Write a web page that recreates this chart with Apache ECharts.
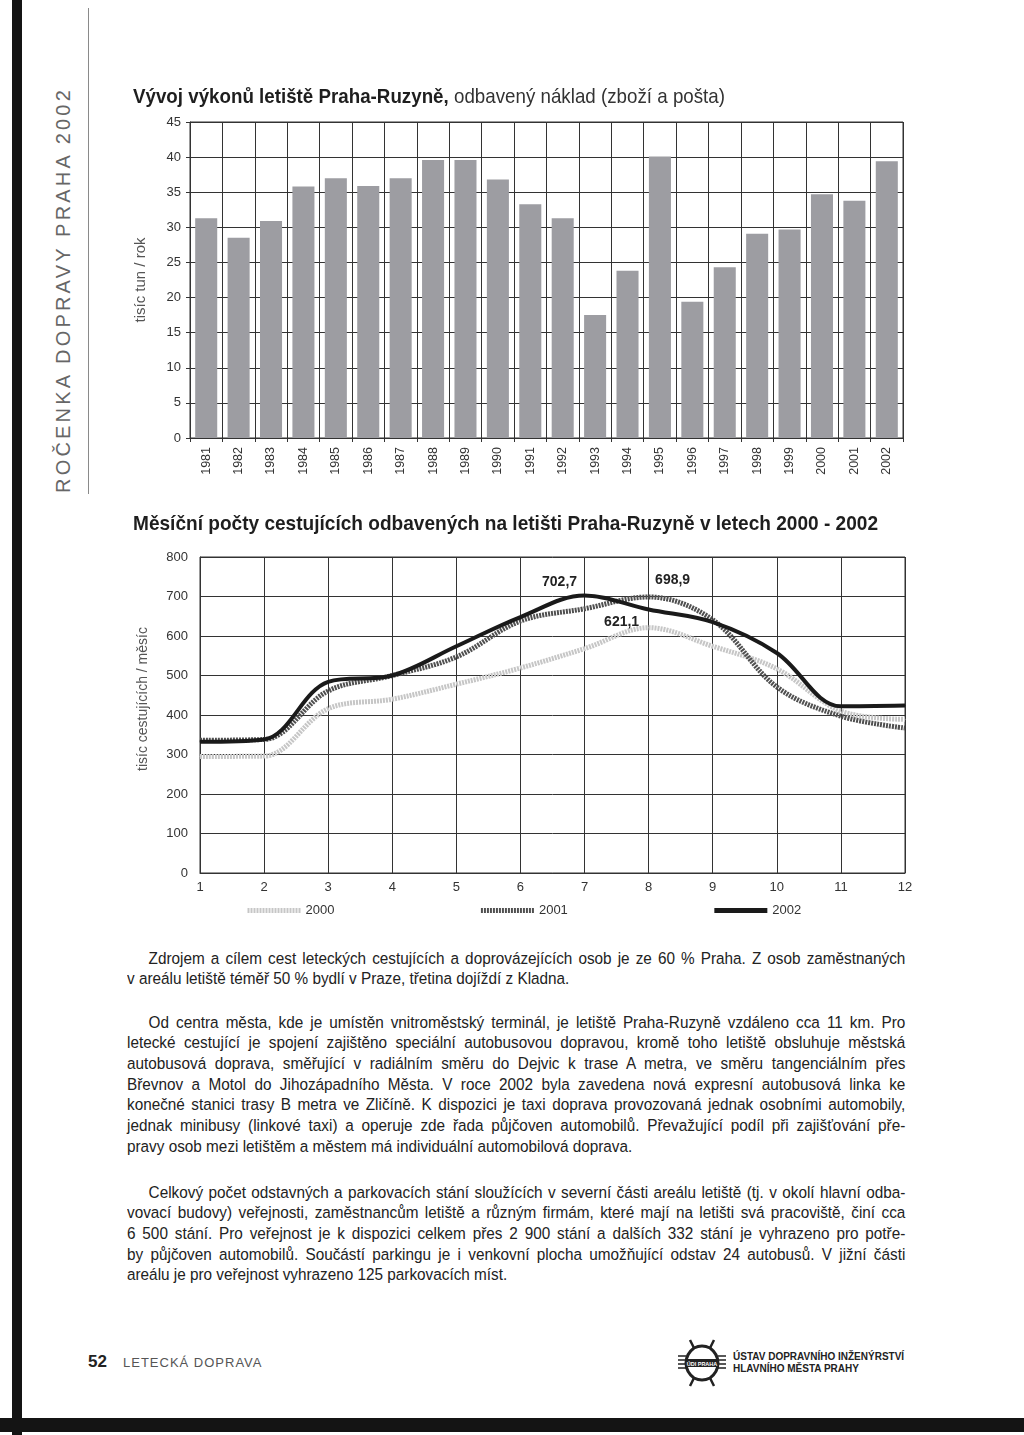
<!DOCTYPE html>
<html>
<head>
<meta charset="utf-8">
<script src="https://cdn.jsdelivr.net/npm/echarts@6/dist/echarts.min.js"></script>
<style>
  html, body { margin:0; padding:0; background:#fff; }
  #page { position:relative; width:1024px; height:1435px; overflow:hidden; background:#fff;
          font-family:"Liberation Sans","DejaVu Sans",sans-serif; color:#222; }
  #chart { position:absolute; left:0; top:0; width:1024px; height:930px; }
  .leftbar { position:absolute; left:12px; top:0; width:10px; height:1435px; background:#141414; }
  .bottombar { position:absolute; left:0; top:1418px; width:1024px; height:14px; background:#141414; }
  .vline { position:absolute; left:88px; top:8px; width:1px; height:486px; background:#8a8a8a; }
  .vtext { position:absolute; left:63px; top:290px; transform:translate(-50%,-50%) rotate(-90deg);
           white-space:nowrap; font-family:"Liberation Sans","DejaVu Sans",sans-serif; font-size:20px;
           letter-spacing:3.2px; color:#666; }
  .para { position:absolute; left:127px; width:828px; transform:scaleX(0.94); transform-origin:0 0;
          font-family:"Liberation Sans",sans-serif; font-size:16.3px; line-height:20.7px; color:#222; }
  .para span { display:block; text-align:justify; text-align-last:justify; white-space:nowrap; }
  .para span.first { padding-left:23px; }
  .para span.last { text-align-last:left; }
  .foot52 { position:absolute; left:88px; top:1352px; font-weight:bold; font-size:17px; color:#222; }
  .footsec { position:absolute; left:123px; top:1355px; font-size:13px; letter-spacing:1px; color:#555; }
  .logo { position:absolute; left:676px; top:1338px; }
  .inst { position:absolute; left:733px; top:1351px; font-weight:bold; font-size:10px; line-height:12px; color:#222; }
</style>
</head>
<body>
<div id="page">
  <div class="leftbar"></div>
  <div class="vline"></div>
  <div class="vtext">ROČENKA DOPRAVY PRAHA 2002</div>
  <div id="chart"></div>

  <div class="para" style="top:947.6px;">
    <span class="first">Zdrojem a cílem cest leteckých cestujících a doprovázejících osob je ze 60 % Praha. Z osob zaměstnaných</span>
    <span class="last">v areálu letiště téměř 50 % bydlí v Praze, třetina dojíždí z Kladna.</span>
  </div>
  <div class="para" style="top:1011.6px;">
    <span class="first">Od centra města, kde je umístěn vnitroměstský terminál, je letiště Praha-Ruzyně vzdáleno cca 11 km. Pro</span>
    <span>letecké cestující je spojení zajištěno speciální autobusovou dopravou, kromě toho letiště obsluhuje městská</span>
    <span>autobusová doprava, směřující v radiálním směru do Dejvic k trase A metra, ve směru tangenciálním přes</span>
    <span>Břevnov a Motol do Jihozápadního Města. V roce 2002 byla zavedena nová expresní autobusová linka ke</span>
    <span>konečné stanici trasy B metra ve Zličíně. K dispozici je taxi doprava provozovaná jednak osobními automobily,</span>
    <span>jednak minibusy (linkové taxi) a operuje zde řada půjčoven automobilů. Převažující podíl při zajišťování pře-</span>
    <span class="last">pravy osob mezi letištěm a městem má individuální automobilová doprava.</span>
  </div>
  <div class="para" style="top:1181.6px;">
    <span class="first">Celkový počet odstavných a parkovacích stání sloužících v severní části areálu letiště (tj. v okolí hlavní odba-</span>
    <span>vovací budovy) veřejnosti, zaměstnancům letiště a různým firmám, které mají na letišti svá pracoviště, činí cca</span>
    <span>6 500 stání. Pro veřejnost je k dispozici celkem přes 2 900 stání a dalších 332 stání je vyhrazeno pro potře-</span>
    <span>by půjčoven automobilů. Součástí parkingu je i venkovní plocha umožňující odstav 24 autobusů. V jižní části</span>
    <span class="last">areálu je pro veřejnost vyhrazeno 125 parkovacích míst.</span>
  </div>

  <div class="foot52">52</div>
  <div class="footsec">LETECKÁ DOPRAVA</div>
  <svg class="logo" width="52" height="50" viewBox="0 0 52 50">
    <path d="M14 2 L18 10 M38 2 L34 10 M14 48 L18 40 M38 48 L34 40" stroke="#222" stroke-width="2.5" fill="none"/>
    <path d="M18 10 Q26 6 34 10 Q42 16 42 25 Q42 34 34 40 Q26 44 18 40 Q10 34 10 25 Q10 16 18 10 Z" stroke="#222" stroke-width="3" fill="none"/>
    <path d="M2 18 H10 M2 22 H10 M2 26 H10 M2 30 H10 M42 18 H50 M42 22 H50 M42 26 H50 M42 30 H50" stroke="#222" stroke-width="1.5"/>
    <rect x="9" y="21" width="34" height="8" fill="#222"/>
    <text x="26" y="27.5" font-family="Liberation Sans" font-size="5.5" font-weight="bold" fill="#fff" text-anchor="middle">ÚDI PRAHA</text>
  </svg>
  <div class="inst">ÚSTAV DOPRAVNÍHO INŽENÝRSTVÍ<br>HLAVNÍHO MĚSTA PRAHY</div>
  <div class="bottombar"></div>
</div>

<script>
// ---- Data: chart 1 (odbavený náklad, tisíc tun / rok) ----
const years = ['1981','1982','1983','1984','1985','1986','1987','1988','1989','1990','1991',
               '1992','1993','1994','1995','1996','1997','1998','1999','2000','2001','2002'];
const cargo = [31.3, 28.5, 30.9, 35.8, 37.0, 35.9, 37.0, 39.6, 39.6, 36.8, 33.3,
               31.3, 17.5, 23.8, 40.1, 19.4, 24.3, 29.1, 29.7, 34.7, 33.8, 39.4];
const cargoTicks = [0, 5, 10, 15, 20, 25, 30, 35, 40, 45];

// ---- Data: chart 2 (tisíc cestujících / měsíc) ----
const months = ['1','2','3','4','5','6','7','8','9','10','11','12'];
const pax2000 = [295, 296, 416, 440, 478, 519, 568, 621.1, 574, 517, 410, 389];
const pax2001 = [336, 338, 461, 500, 547, 638, 669, 698.9, 641, 471, 397, 367];
const pax2002 = [332, 338, 484, 500, 574, 648, 702.7, 667, 635, 557, 422, 424];
const paxTicks = [0, 100, 200, 300, 400, 500, 600, 700, 800];
const seriesNames = ['2000', '2001', '2002'];

const title1Bold = 'Vývoj výkonů letiště Praha-Ruzyně,';
const title1Reg = 'odbavený náklad (zboží a pošta)';
const title2 = 'Měsíční počty cestujících odbavených na letišti Praha-Ruzyně v letech 2000 - 2002';

const FA = '"Liberation Sans","DejaVu Sans",sans-serif';
const czNum = v => String(v).replace('.', ',');

// measure text to condense titles (scaleX) to the reference's narrow typeface width
const mctx = document.createElement('canvas').getContext('2d');
function tw(t, weight, size) { mctx.font = weight + ' ' + size + 'px "Liberation Sans"'; return mctx.measureText(t).width; }
const TS = 21;
const wB = tw(title1Bold, 'bold', TS), wR = tw(title1Reg, 'normal', TS), wSp = tw(' ', 'normal', TS);
const s1 = 592 / (wB + wSp + wR);
const s2 = 745 / tw(title2, 'bold', TS);

function labelled(arr, idx, lab) {
  return arr.map((v, i) => i === idx ? { value: v, label: Object.assign({
    show: true, formatter: p => czNum(p.value), fontFamily: FA, fontWeight: 'bold', fontSize: 14, color: '#222'
  }, lab) } : v);
}

const chart = echarts.init(document.getElementById('chart'), null, { renderer: 'canvas' });
chart.setOption({
  animation: false,
  backgroundColor: 'transparent',
  graphic: [
    { type: 'text', x: 133, y: 97, scaleX: s1, style: { text: title1Bold, fontFamily: FA, fontWeight: 'bold', fontSize: TS, fill: '#1e1e1e', verticalAlign: 'middle' } },
    { type: 'text', x: 133 + (wB + wSp) * s1, y: 97, scaleX: s1, style: { text: title1Reg, fontFamily: FA, fontWeight: 'normal', fontSize: TS, fill: '#333', verticalAlign: 'middle' } },
    { type: 'text', x: 133, y: 524, scaleX: s2, style: { text: title2, fontFamily: FA, fontWeight: 'bold', fontSize: TS, fill: '#1e1e1e', verticalAlign: 'middle' } }
  ],
  grid: [
    { left: 190, top: 122, width: 713, height: 316, show: true, borderColor: '#333', borderWidth: 1 },
    { left: 200, top: 557, width: 705, height: 316, show: true, borderColor: '#333', borderWidth: 1 }
  ],
  legend: {
    data: seriesNames, left: 240, top: 899, itemWidth: 53, itemHeight: 8, itemGap: 144,
    itemStyle: { opacity: 0 },
    lineStyle: { width: 5 },
    textStyle: { fontFamily: FA, fontSize: 13, color: '#333' }
  },
  xAxis: [{
    gridIndex: 0, type: 'category', data: years, boundaryGap: true,
    axisLine: { lineStyle: { color: '#333', width: 1 } },
    axisTick: { show: true, length: 4, lineStyle: { color: '#333' } },
    axisLabel: { rotate: 90, interval: 0, margin: 9, fontFamily: FA, fontSize: 12.5, color: '#333' },
    splitLine: { show: true, lineStyle: { color: '#333', width: 1 } }
  }, {
    gridIndex: 1, type: 'category', data: months, boundaryGap: false,
    axisLine: { lineStyle: { color: '#333', width: 1 } },
    axisTick: { show: false },
    axisLabel: { interval: 0, margin: 8, fontFamily: FA, fontSize: 13, color: '#333' },
    splitLine: { show: true, lineStyle: { color: '#333', width: 1 } }
  }],
  yAxis: [{
    gridIndex: 0, type: 'value', min: cargoTicks[0], max: cargoTicks[cargoTicks.length - 1], interval: 5,
    name: 'tisíc tun / rok', nameLocation: 'middle', nameRotate: 90, nameGap: 42,
    nameTextStyle: { fontFamily: FA, fontSize: 15, color: '#555' },
    axisLine: { show: true, lineStyle: { color: '#333' } },
    axisTick: { show: true, length: 4, lineStyle: { color: '#333' } },
    axisLabel: { margin: 9, fontFamily: FA, fontSize: 13, color: '#333' },
    splitLine: { show: true, lineStyle: { color: '#333', width: 1 } }
  }, {
    gridIndex: 1, type: 'value', min: paxTicks[0], max: paxTicks[paxTicks.length - 1], interval: 100,
    name: 'tisíc cestujících / měsíc', nameLocation: 'middle', nameRotate: 90, nameGap: 50,
    nameTextStyle: { fontFamily: FA, fontSize: 14, color: '#555', padding: [0, 0, 0, 32] },
    axisLine: { show: true, lineStyle: { color: '#333' } },
    axisTick: { show: false },
    axisLabel: { margin: 12, fontFamily: FA, fontSize: 13, color: '#333' },
    splitLine: { show: true, lineStyle: { color: '#333', width: 1 } }
  }],
  series: [{
    type: 'bar', xAxisIndex: 0, yAxisIndex: 0, data: cargo, barWidth: '68%',
    itemStyle: { color: '#9d9da2' }, z: 3
  }, {
    name: seriesNames[0], type: 'line', xAxisIndex: 1, yAxisIndex: 1, smooth: 0.35,
    symbol: 'circle', symbolSize: 1, showSymbol: true, z: 4,
    data: labelled(pax2000, 7, { position: 'left', distance: 9, offset: [0, -6] }),
    lineStyle: { color: '#c6c6c6', width: 5, type: [2, 1] }, itemStyle: { color: '#c6c6c6' }
  }, {
    name: seriesNames[1], type: 'line', xAxisIndex: 1, yAxisIndex: 1, smooth: 0.35,
    symbol: 'circle', symbolSize: 1, showSymbol: true, z: 5,
    data: labelled(pax2001, 7, { position: 'top', distance: 9, offset: [24, 0] }),
    lineStyle: { color: '#505050', width: 5, type: [2, 1] }, itemStyle: { color: '#505050' }
  }, {
    name: seriesNames[2], type: 'line', xAxisIndex: 1, yAxisIndex: 1, smooth: 0.35,
    symbol: 'circle', symbolSize: 1, showSymbol: true, z: 6,
    data: labelled(pax2002, 6, { position: 'top', distance: 6, offset: [-25, 0] }),
    lineStyle: { color: '#1a1a1a', width: 4 }, itemStyle: { color: '#1a1a1a' }
  }]
});
</script>
</body>
</html>
